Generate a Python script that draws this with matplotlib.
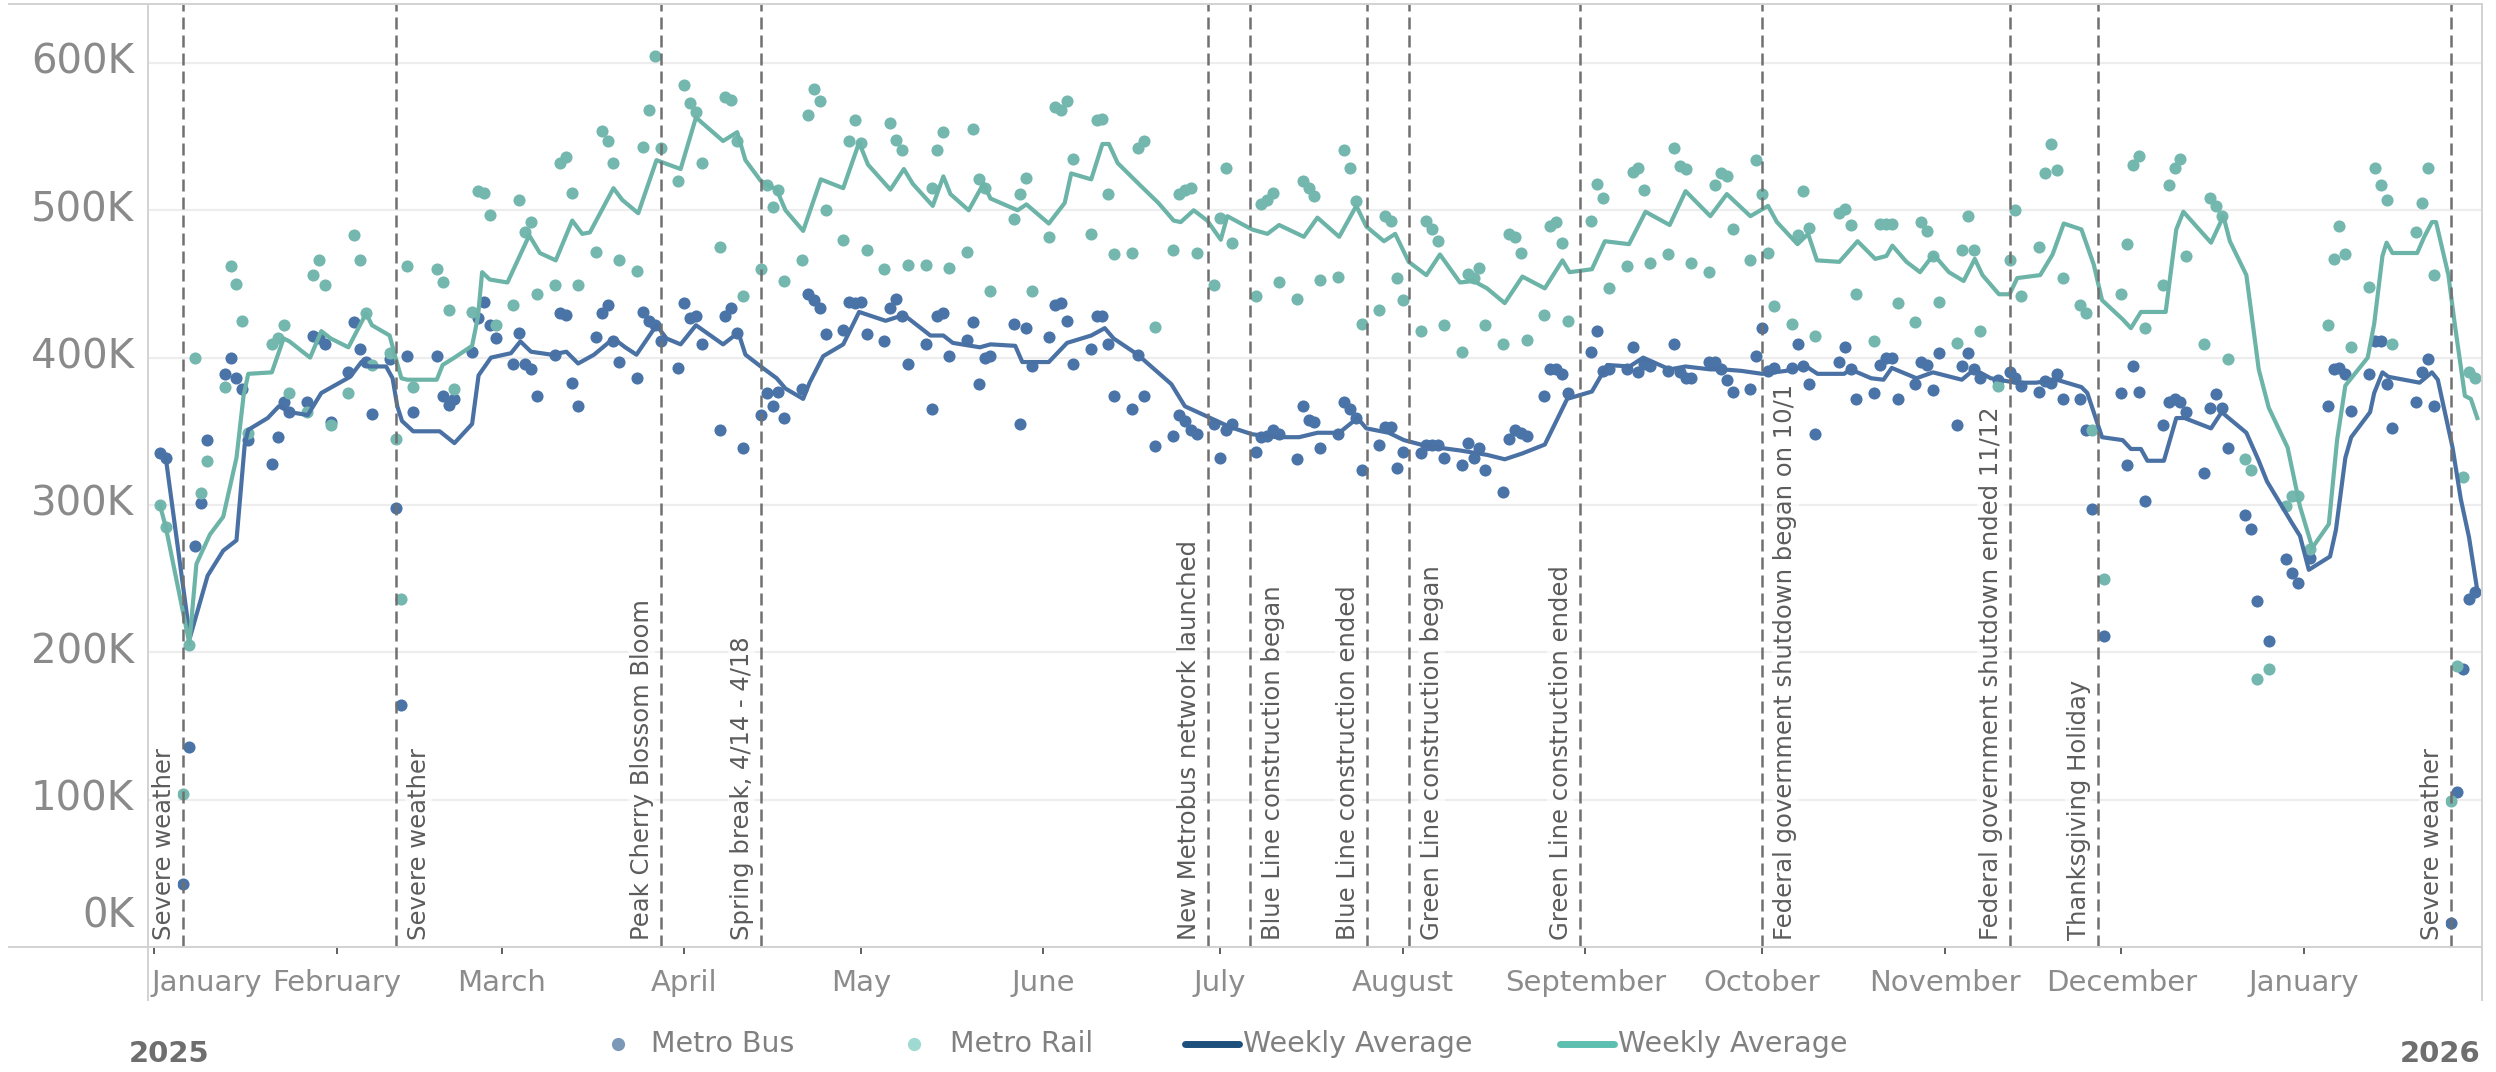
import matplotlib
matplotlib.use('Agg')
import matplotlib.pyplot as plt
from matplotlib.lines import Line2D
from matplotlib.transforms import blended_transform_factory, offset_copy
import pandas as pd

# ------- Data (thousands of daily boardings, weekdays Mon..Fri, None = no value) -------
first_monday = '2024-12-30'

bus_daily = [
    [None, None, None, 335, 332], [43, 136, 272, 301, 344], [389, 400, 386, 379, 344],
    [None, 328, 346, 370, 363], [370, 415, 413, 409, 356], [390, 424, 406, 397, 362],
    [399, 298, 164, 401, 363], [None, 401, 374, 368, 372], [404, 427, 438, 422, 413],
    [396, 417, 396, 392, 374], [402, 430, 429, 383, 367], [414, 430, 436, 411, 397],
    [386, 431, 425, 422, 411], [393, 437, 427, 428, 409], [351, 428, 434, 417, 339],
    [361, 376, 367, 377, 359], [379, 443, 439, 434, 416], [419, 438, 437, 438, 416],
    [411, 434, 440, 428, 396], [409, 365, 428, 430, 401], [412, 424, 382, 400, 401],
    [None, 423, 355, 420, 394], [414, 436, 437, 425, 396], [406, 428, 428, 409, 374],
    [365, 402, 374, None, 340], [347, 361, 357, 351, 348], [355, 332, 351, 355, None],
    [336, 346, 347, 351, 348], [331, 367, 358, 356, 339], [348, 370, 365, 359, 324],
    [341, 353, 353, 325, 336], [335, 341, 341, 341, 332], [327, 342, 332, 339, 324],
    [309, 345, 351, 349, 347], [374, 392, 392, 389, 376], [None, 404, 418, 391, 392],
    [392, 407, 390, 396, 394], [391, 409, 390, 386, 386], [397, 397, 392, 385, 377],
    [379, 401, 420, 391, 393], [393, 409, 394, 382, 348], [None, 397, 407, 392, 372],
    [376, 395, 400, 400, 372], [382, 397, 395, 378, 403], [354, 394, 403, 392, 386],
    [385, None, 390, 386, 381], [377, 384, 383, 389, 372], [372, 351, 297, None, 211],
    [376, 327, 394, 377, 303], [354, 370, 372, 370, 363], [322, 366, 375, 366, 339],
    [293, 284, 235, None, 208], [263, 254, 247, None, 264], [367, 392, 393, 389, 364],
    [389, 411, 411, 382, 352], [None, 370, 390, 399, 367], [16, 105, 189, 236, 241],
]

rail_daily = [
    [None, None, None, 300, 285], [104, 205, 400, 308, 330], [380, 462, 450, 425, 349],
    [None, 409, 413, 422, 376], [363, 456, 466, 449, 354], [376, 483, 466, 430, 395],
    [403, 345, 236, 462, 380], [None, 460, 451, 432, 379], [431, 513, 512, 497, 422],
    [436, 507, 485, 492, 443], [449, 532, 536, 512, 449], [472, 554, 547, 532, 466],
    [459, 543, 568, 605, 542], [520, 585, 573, 567, 532], [475, 577, 575, 547, 442],
    [460, 517, 502, 514, 452], [466, 565, 582, 574, 500], [480, 547, 561, 546, 473],
    [460, 559, 548, 541, 463], [463, 515, 541, 553, 461], [472, 555, 521, 515, 445],
    [None, 494, 511, 522, 445], [482, 570, 568, 574, 535], [484, 561, 562, 511, 470],
    [471, 542, 547, None, 421], [473, 511, 514, 515, 471], [449, 495, 529, 478, None],
    [442, 504, 507, 512, 451], [440, 520, 515, 510, 453], [455, 541, 529, 506, 423],
    [432, 496, 493, 454, 439], [418, 493, 487, 479, 422], [404, 457, 454, 461, 422],
    [409, 484, 482, 471, 412], [429, 489, 492, 478, 425], [None, 493, 518, 508, 447],
    [462, 526, 529, 514, 464], [470, 542, 530, 528, 464], [458, 517, 525, 523, 487],
    [466, 534, 511, 471, 435], [423, 483, 513, 488, 415], [None, 498, 501, 490, 443],
    [411, 491, 491, 491, 437], [424, 492, 486, 469, 438], [410, 473, 496, 473, 418],
    [381, None, 466, 500, 442], [475, 525, 545, 527, 454], [436, 430, 351, None, 250],
    [443, 477, 531, 537, 420], [449, 517, 529, 535, 469], [409, 508, 503, 496, 399],
    [331, 324, 182, None, 189], [299, 306, 306, None, 270], [422, 467, 489, 470, 407],
    [448, 529, 517, 507, 409], [None, 485, 505, 529, 456], [99, 191, 319, 390, 386],
]

# weekly average lines: days after 2025-01-01, value (K)
rail_avg_day = [
    1, 2, 6, 7.2, 9.5, 11.75, 14, 15.2, 16, 20,
    22, 23, 26.5, 28.4, 30, 33, 36, 37, 40, 41,
    42, 43, 48, 49, 51, 54, 55, 55.7, 57, 60,
    63.7, 65.5, 68.2, 71, 72.7, 74, 78, 79.5, 82.2, 85.3,
    89.4, 92, 96.6, 99, 100.4, 103, 105.7, 107.2, 110.2, 113.2,
    117, 119.7, 121.2, 125, 127.3, 128.8, 132.2, 134, 135.2, 138.3,
    140.8, 142, 146.6, 148.1, 151.9, 154.6, 155.7, 159.1, 161, 162.1,
    163.6, 167.4, 170.5, 173.1, 174.3, 176.5, 178.8, 181.1, 182.2, 186.4,
    189, 191, 195.2, 197.5, 201.2, 204.1, 205.8, 208.8, 210.7, 213,
    216, 218.3, 221.7, 224, 226.3, 229.3, 232.3, 236.1, 239.1, 240.3,
    244.1, 246.3, 250.4, 253.2, 257.3, 260, 264.2, 267, 271, 274,
    275.5, 279, 280.8, 282.3, 286.1, 289.2, 292.2, 294.1, 295.1, 297.5,
    299.8, 302.1, 304.7, 307.2, 309.1, 310.4, 313.2, 315, 316.3, 320.2,
    322.3, 324.2, 327.2, 329.3, 330.7, 334.2, 335.6, 337.3, 341.5, 343.3,
    344.5, 349.2, 351.3, 352.4, 355.2, 357.3, 359, 362.2, 364.3, 366.4,
    369.2, 370.6, 372, 375.8, 376.9, 378.3, 379, 380, 384.2, 385.4,
    386.7, 387.4, 389.5, 390.5, 392.3, 393.3, 394.4,
]
rail_avg = [
    300, 285, 206, 260, 280, 292, 332, 374, 389, 390,
    413, 411, 400, 418, 413, 407, 430, 422, 415, 400,
    386, 385, 385, 395, 400, 408, 428, 458, 453, 451,
    483, 471, 466, 493, 484, 485, 515, 507, 498, 534,
    528, 563, 547, 553, 534, 520, 514, 500, 486, 521,
    515, 546, 531, 514, 528, 518, 503, 523, 511, 500,
    518, 508, 500, 504, 491, 505, 525, 521, 545, 545,
    532, 517, 505, 493, 492, 500, 493, 480, 496, 487,
    484, 490, 482, 495, 482, 503, 489, 479, 484, 465,
    456, 470, 451, 452, 447, 437, 455, 447, 466, 458,
    460, 479, 477, 499, 490, 513, 496, 511, 496, 503,
    492, 477, 484, 466, 465, 479, 467, 469, 476, 465,
    458, 470, 458, 452, 467, 456, 443, 443, 454, 456,
    470, 491, 487, 463, 439, 426, 420, 431, 431, 487,
    499, 478, 496, 479, 456, 392, 366, 339, 299, 271,
    287, 344, 381, 400, 423, 469, 478, 471, 471, 482,
    492, 492, 456, 425, 374, 372, 359,
]
bus_avg_day = [
    1, 2, 6.1, 9.1, 11.75, 14, 15.4, 16, 19.3, 21.2,
    23.1, 26.1, 28.4, 31.5, 33.3, 35.2, 36.5, 39.4, 40.5, 41.3,
    42.1, 44, 48.5, 51, 54, 55.1, 57.2, 60.6, 62.2, 64,
    67.5, 70, 72, 74.7, 78, 80, 81.9, 85.3, 87, 89.4,
    92, 96.6, 99.2, 100.4, 103, 105.7, 107.2, 110.2, 111.3, 113.6,
    117, 119.7, 124.2, 127.3, 131.8, 134, 135.6, 140.2, 142, 146.2,
    147.4, 151.9, 155, 159.1, 161.4, 162.9, 167, 172.7, 175, 178.8,
    182.6, 186.4, 190.6, 194.4, 197.5, 201.2, 204.3, 205.8, 209.6, 212.2,
    216, 221.7, 226.3, 229.3, 232.3, 236.1, 239.9, 244.1, 246.7, 250.5,
    252.8, 257.3, 260, 264.2, 266.4, 269.5, 273, 277, 280.5, 282.4,
    286.9, 288, 291.5, 293.6, 295, 299.2, 302, 306.9, 309, 311.8,
    316, 319.5, 323, 327.2, 328.2, 330.7, 334.2, 335.6, 337.3, 338.4,
    341.2, 343.3, 344.7, 349.2, 351, 355.2, 357.3, 358.7, 360.8, 362.9,
    364.3, 365.8, 369.4, 370.4, 372, 373, 376.2, 376.9, 378.3, 379.3,
    384.6, 386.7, 387.7, 390.2, 391.6, 393, 394.4,
]
bus_avg = [
    335, 332, 210, 252, 269, 276, 341, 351, 359, 367,
    363, 361, 376, 383, 387, 397, 394, 394, 386, 367,
    357, 350, 350, 342, 355, 388, 400, 403, 411, 404,
    402, 404, 396, 402, 413, 407, 402, 422, 413, 409,
    422, 409, 417, 402, 394, 386, 379, 372, 383, 401,
    409, 431, 425, 429, 415, 415, 410, 407, 409, 408,
    397, 397, 410, 415, 420, 413, 402, 382, 367, 360,
    353, 348, 346, 346, 349, 349, 359, 352, 349, 344,
    340, 337, 334, 331, 335, 341, 372, 377, 395, 394,
    400, 392, 394, 392, 392, 391, 389, 391, 394, 389,
    389, 392, 386, 385, 393, 386, 390, 385, 392, 386,
    383, 383, 385, 380, 376, 346, 344, 338, 338, 330,
    330, 359, 359, 352, 363, 349, 330, 316, 302, 288,
    279, 256, 265, 283, 332, 346, 363, 376, 390, 387,
    383, 390, 385, 339, 304, 278, 242,
]

event_dates = ['2025-01-06', '2025-02-11', '2025-03-28', '2025-04-14', '2025-06-29',
               '2025-07-06', '2025-07-26', '2025-08-02', '2025-08-31', '2025-10-01',
               '2025-11-12', '2025-11-27', '2026-01-26']
event_labels = ['Severe weather', 'Severe weather', 'Peak Cherry Blossom Bloom',
                'Spring break, 4/14 - 4/18', 'New Metrobus network launched',
                'Blue Line construction began', 'Blue Line construction ended',
                'Green Line construction began', 'Green Line construction ended',
                'Federal government shutdown began on 10/1',
                'Federal government shutdown ended 11/12', 'Thanksgiving Holiday',
                'Severe weather']
event_side = ['left', 'right', 'left', 'left', 'left', 'right', 'left', 'right',
              'left', 'right', 'left', 'left', 'left']

month_ticks = pd.date_range('2025-01-01', '2026-01-01', freq='MS')
month_names = ['January', 'February', 'March', 'April', 'May', 'June', 'July',
               'August', 'September', 'October', 'November', 'December', 'January']
y_ticks = [0, 100, 200, 300, 400, 500, 600]

# ------- Helpers -------
base = pd.Timestamp('2025-01-01')
weeks = pd.date_range(first_monday, periods=len(bus_daily), freq='7D')


def expand(rows):
    d, v = [], []
    for wk, row in zip(weeks, rows):
        for i, x in enumerate(row):
            if x is not None:
                d.append(wk + pd.Timedelta(days=i))
                v.append(x)
    return d, v


def to_dates(days):
    return [base + pd.Timedelta(days=x) for x in days]


assert len(rail_avg_day) == len(rail_avg) and len(bus_avg_day) == len(bus_avg)

plt.rcParams['font.family'] = ['DejaVu Sans']

W, H = 2496, 1072
fig = plt.figure(figsize=(W / 100, H / 100), dpi=100)
ax = fig.add_axes([148 / W, 1 - 947 / H, (2482 - 148) / W, (947 - 4) / H])

# colours
c_bus, c_bus_line = '#4a74a8', '#4a71a4'
c_rail, c_rail_line = '#74b7ae', '#6cb3a8'

bus_d, bus_v = expand(bus_daily)
rail_d, rail_v = expand(rail_daily)

ax.scatter(bus_d, bus_v, s=76, color=c_bus, linewidths=0, zorder=2)
ax.scatter(rail_d, rail_v, s=76, color=c_rail, linewidths=0, zorder=2)
ax.plot(to_dates(bus_avg_day), bus_avg, color=c_bus_line, lw=3.0, zorder=3,
        solid_joinstyle='round')
ax.plot(to_dates(rail_avg_day), rail_avg, color=c_rail_line, lw=3.0, zorder=3,
        solid_joinstyle='round')

ax.set_xlim(base - pd.Timedelta(days=1.02), base + pd.Timedelta(days=395.2))
ax.set_ylim(0, 640)

# grid + axes cosmetics
ax.set_yticks(y_ticks)
ax.yaxis.grid(True, color='#ededed', lw=1.6, zorder=0)
ax.tick_params(axis='y', length=0, labelleft=False)
ax.set_xticks(month_ticks)
ax.set_xticklabels([])
ax.tick_params(axis='x', length=5, width=1.2, color='#444444', direction='out')
for sp in ax.spines.values():
    sp.set_visible(False)

# y labels (Tableau style, 0K nudged up)
ytr = blended_transform_factory(ax.transAxes, ax.transData)
for v in y_ticks:
    tr = offset_copy(ytr, fig=fig, x=-14, y=30 if v == 0 else 0, units='dots')
    ax.text(0, v, f'{v}K', transform=tr, ha='right', va='center',
            fontsize=29, color='#8a8a8a')

# month labels
mtr = blended_transform_factory(ax.transData, fig.transFigure)
for i, (t, name) in enumerate(zip(month_ticks, month_names)):
    ax.text(t - pd.Timedelta(days=0.4) if i == 0 else t, 1 - 983 / H, name,
            transform=mtr, ha='left' if i == 0 else 'center', va='center',
            fontsize=21, color='#8c8c8c', clip_on=False)

# event markers
etr = blended_transform_factory(ax.transData, ax.transAxes)
for d, lab, side in zip(event_dates, event_labels, event_side):
    t = pd.Timestamp(d)
    ax.axvline(t, color='#707070', lw=1.8, ls=(0, (4.8, 2.4)), zorder=4)
    dx = -7 if side == 'left' else 11
    tr = offset_copy(etr, fig=fig, x=dx, y=7, units='dots')
    ax.text(t, 0, lab, transform=tr, rotation=90, ha='right' if side == 'left' else 'left',
            va='bottom', fontsize=17.5, color='#5c5c5c', zorder=5,
            bbox=dict(facecolor='white', alpha=0.7, edgecolor='none', pad=1))

# pane frame lines (figure coords)
fc = '#d2d2d2'
for xs, ys in [([9, 2482], [4, 4]), ([9, 2482], [947, 947]),
               ([148, 148], [4, 1000]), ([2482, 2482], [4, 1000])]:
    fig.add_artist(Line2D([x / W for x in xs], [1 - y / H for y in ys],
                          transform=fig.transFigure, color=fc, lw=1.4))

# legend
ly = 1 - 1044 / H
fig.add_artist(Line2D([618 / W], [ly], transform=fig.transFigure, marker='o', ms=9.5,
                      ls='', color='#7b98b8', mew=0))
fig.text(651 / W, ly, 'Metro Bus', va='center', fontsize=20.5, color='#808080')
fig.add_artist(Line2D([914 / W], [ly], transform=fig.transFigure, marker='o', ms=9.5,
                      ls='', color='#9fdad2', mew=0))
fig.text(950 / W, ly, 'Metro Rail', va='center', fontsize=20.5, color='#808080')
fig.add_artist(Line2D([1185 / W, 1239 / W], [ly, ly], transform=fig.transFigure,
                      color='#1d4f7c', lw=5, solid_capstyle='round'))
fig.text(1243 / W, ly, 'Weekly Average', va='center', fontsize=20.5, color='#808080')
fig.add_artist(Line2D([1560 / W, 1614 / W], [ly, ly], transform=fig.transFigure,
                      color='#5dbfb0', lw=5, solid_capstyle='round'))
fig.text(1618 / W, ly, 'Weekly Average', va='center', fontsize=20.5, color='#808080')

# year marks
fig.text(129 / W, 1 - 1054 / H, '2025', fontsize=21, fontweight='bold', color='#6e6e6e',
         va='center', ha='left')
fig.text(2480 / W, 1 - 1054 / H, '2026', fontsize=21, fontweight='bold', color='#6e6e6e',
         va='center', ha='right')

fig.savefig('out.png', dpi=100, facecolor='white')
